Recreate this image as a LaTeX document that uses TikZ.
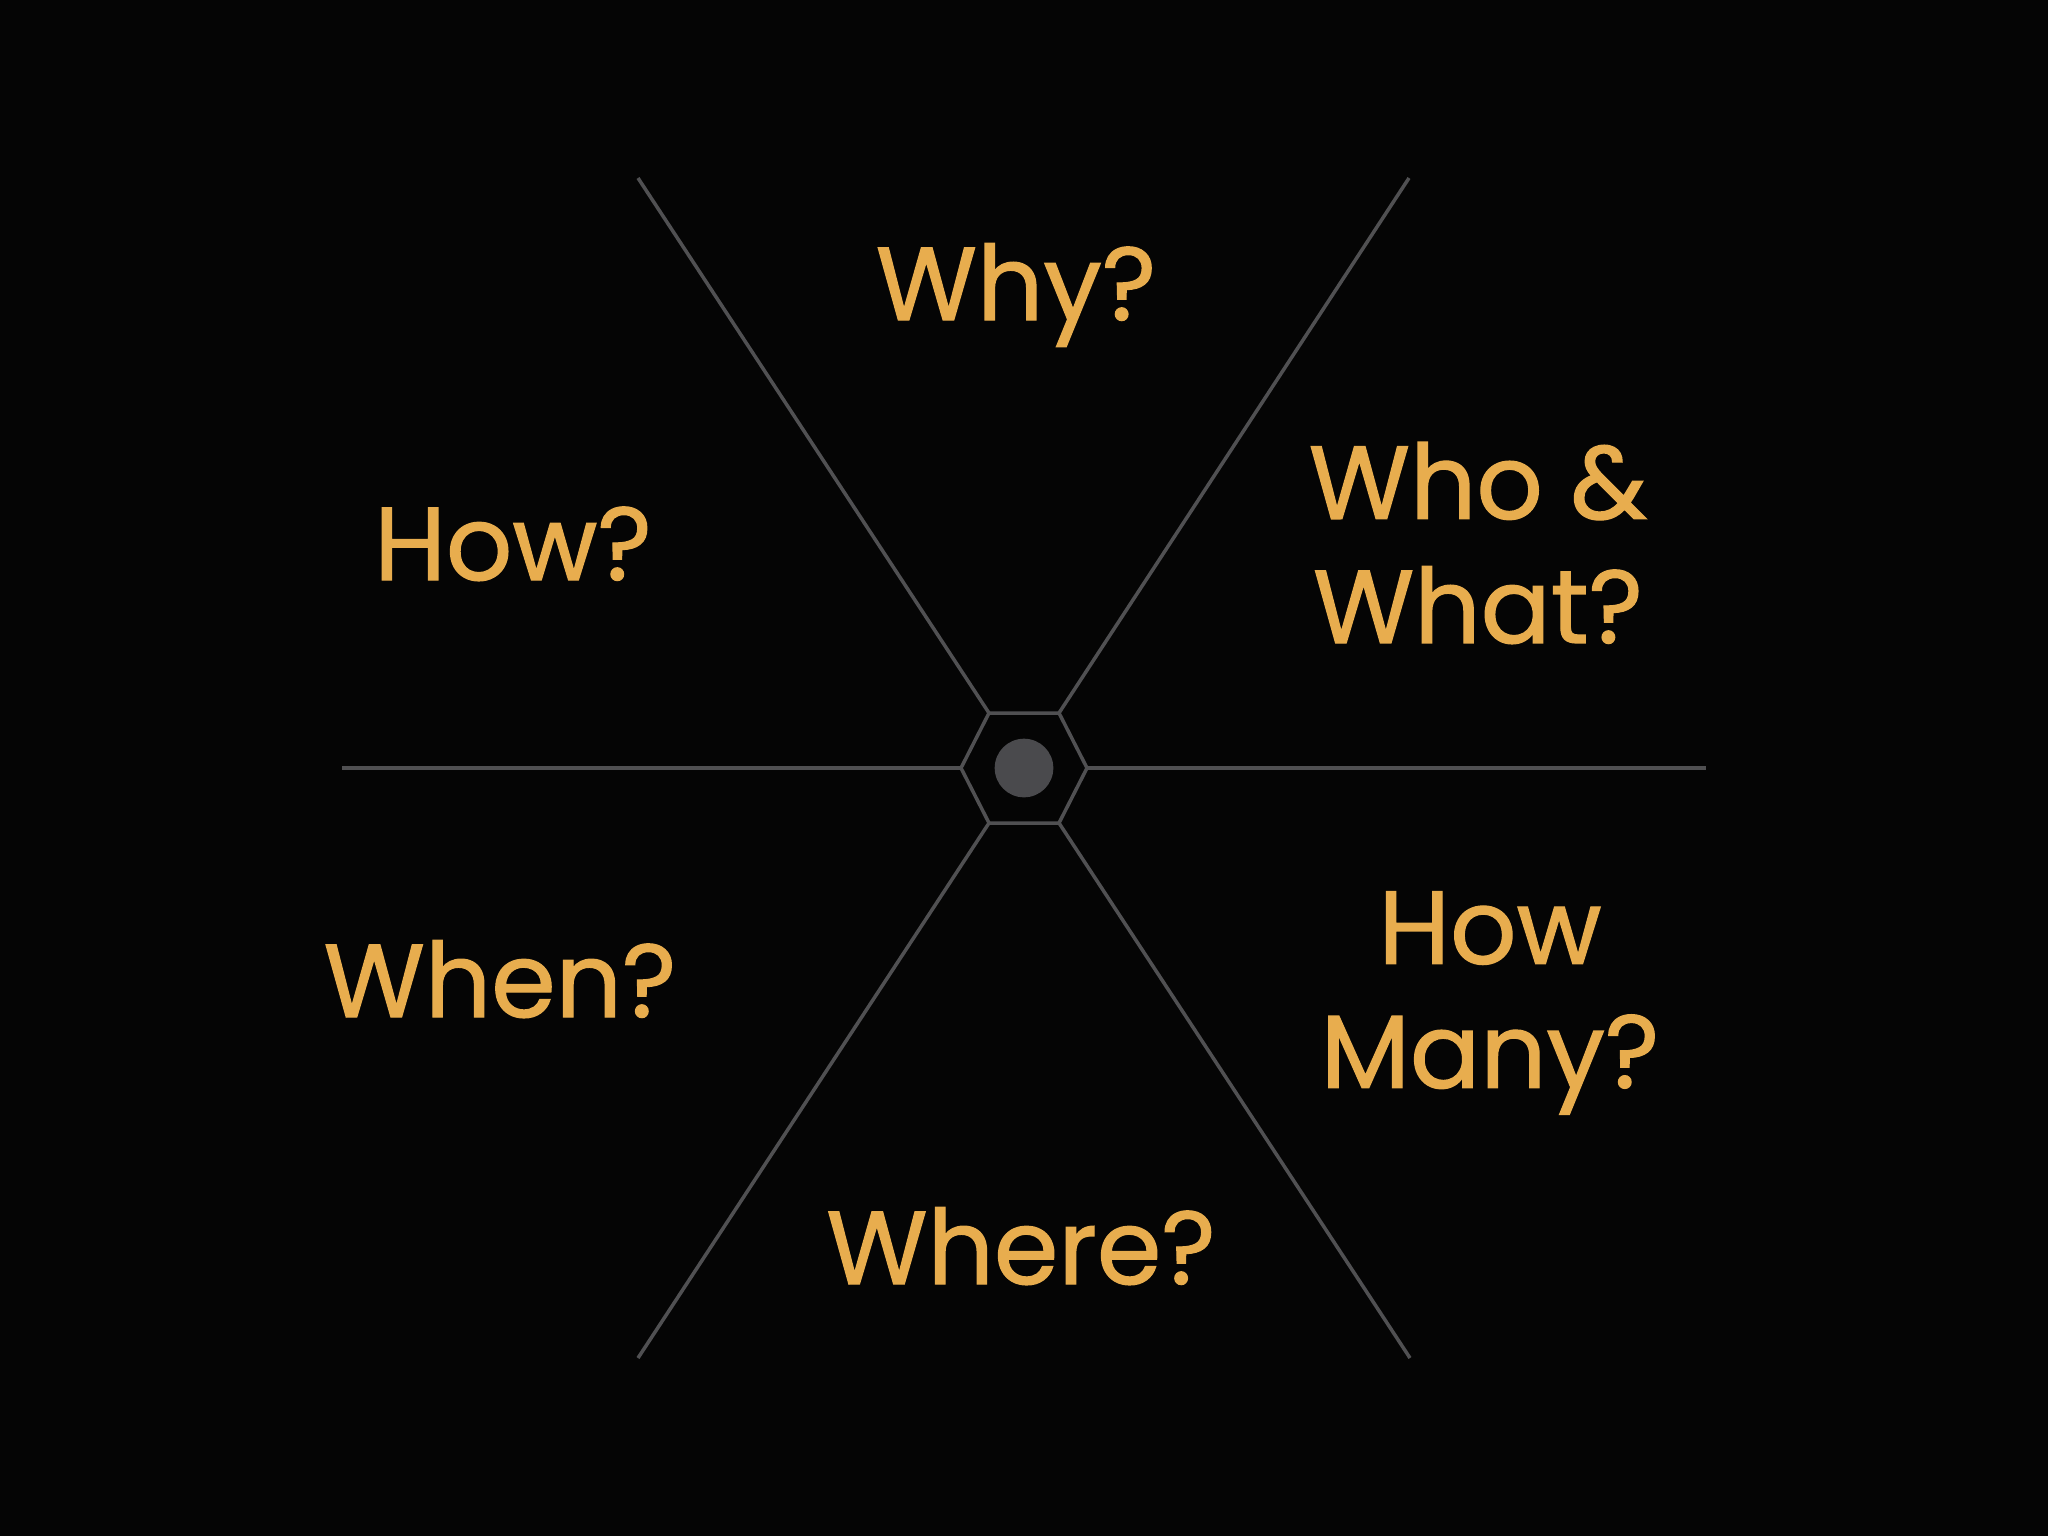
\documentclass[tikz,border=0pt]{standalone}
\usepackage{fontspec}
\setmainfont{Poppins}[FakeBold=1.2]
\definecolor{bg}{HTML}{050505}
\definecolor{spoke}{HTML}{505052}
\definecolor{dot}{HTML}{4A4A4D}
\definecolor{gold}{HTML}{E8AD4E}
\begin{document}
\begin{tikzpicture}[x=0.01cm,y=-0.01cm,
  spokeline/.style={draw=spoke,line width=1pt},
  qlabel/.style={text=gold,font=\fontsize{29.5}{35.3}\selectfont,align=center,inner sep=0pt}]
\fill[bg] (0,0) rectangle (2048,1536);
\useasboundingbox (0,0) rectangle (2048,1536);
% hexagon vertices
\coordinate (hL) at (961,768);
\coordinate (hTL) at (989,713);
\coordinate (hTR) at (1059,713);
\coordinate (hR) at (1087,768);
\coordinate (hBR) at (1059,823);
\coordinate (hBL) at (989,823);
% outer ends
\coordinate (eTL) at (638,178);
\coordinate (eTR) at (1409,178);
\coordinate (eL) at (342,768);
\coordinate (eR) at (1706,768);
\coordinate (eBL) at (638,1358);
\coordinate (eBR) at (1410,1358);
\draw[spokeline,line join=miter] (hL) -- (hTL) -- (hTR) -- (hR) -- (hBR) -- (hBL) -- cycle;
\draw[spokeline] (hTL) -- (eTL);
\draw[spokeline] (hTR) -- (eTR);
\draw[spokeline] (hL) -- (eL);
\draw[spokeline] (hR) -- (eR);
\draw[spokeline] (hBL) -- (eBL);
\draw[spokeline] (hBR) -- (eBR);
\node[circle,fill=dot,minimum size=0.586cm,inner sep=0pt] (hub) at (1024,768) {};
\node[qlabel,anchor=base] (why) at (1016,320) {Why?};
\node[qlabel,anchor=base] (how) at (513,580) {How?};
\node[qlabel] (who) at (1478,543) {Who \&\\What?};
\node[qlabel,anchor=base] (when) at (500,1017) {When?};
\node[qlabel] (many) at (1490,1003) {How\\Many?};
\node[qlabel,anchor=base] (where) at (1021,1284) {Where?};
\end{tikzpicture}
\end{document}
